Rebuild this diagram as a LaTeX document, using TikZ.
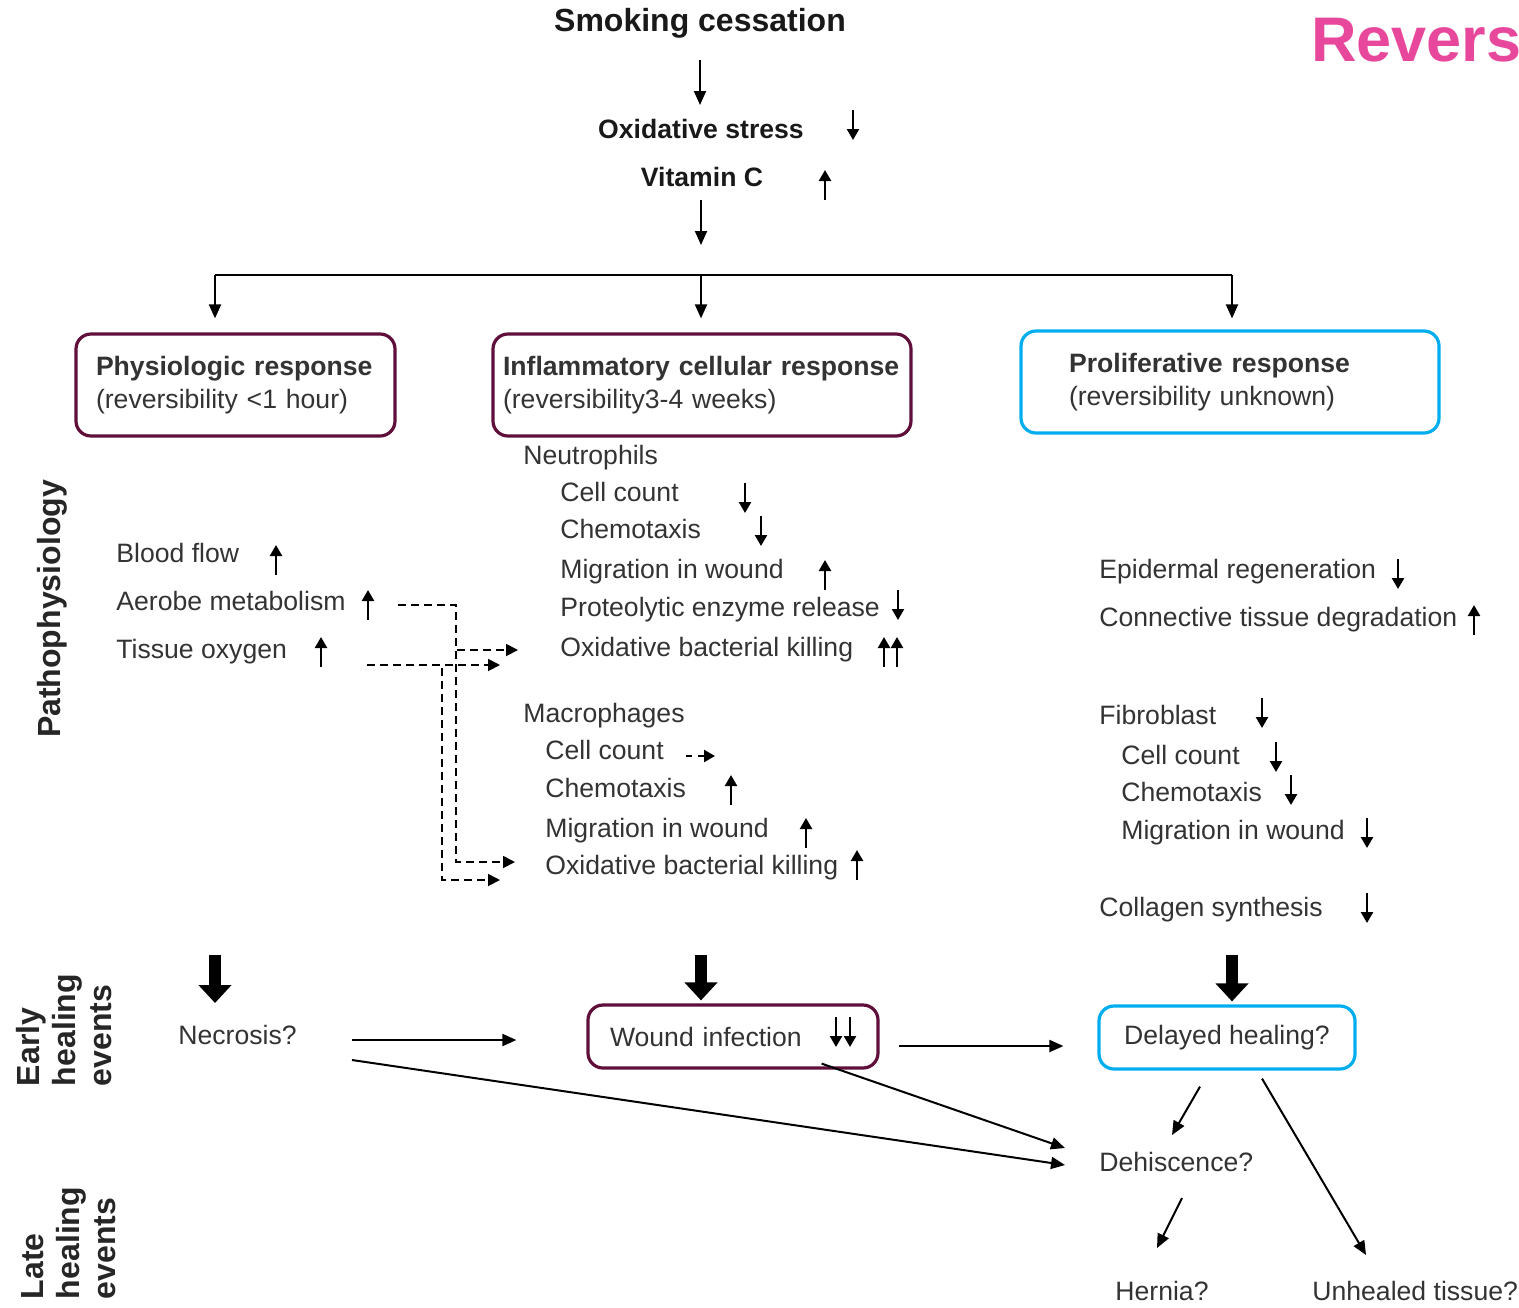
\documentclass[tikz,border=0pt]{standalone}
\usepackage{fontspec}
\setmainfont{Liberation Sans}
\usetikzlibrary{arrows.meta, positioning, calc}
\usepackage{xcolor}
\definecolor{meuvinho}{RGB}{96, 14, 58}
\definecolor{meuciano}{RGB}{0, 174, 239}
\definecolor{meurosa}{RGB}{232, 72, 155}

\begin{document}
\begin{tikzpicture}[
    x=0.5pt, y=-0.5pt,
    every node/.style={font=\fontsize{13.3}{16.5}\selectfont, text=black!80},
    item/.style={anchor=west, inner xsep=0pt, inner ysep=2pt, text height=10pt, text depth=3pt},
    topo/.style={font=\fontsize{13.3}{16}\selectfont\bfseries, text=black!90, inner sep=2pt, text height=10pt, text depth=3pt},
    caixa/.style={draw, line width=1.6pt, rounded corners=7.5pt, align=left},
    lado/.style={rotate=90, align=left, font=\fontsize{16}{18}\selectfont\bfseries, text=black!85},
    seta/.style={line width=1pt, -{Triangle[length=7pt, width=6pt]}},
    ind/.style={line width=1.2pt, -{Triangle[length=5.5pt, width=6pt]}},
    grossa/.style={line width=6pt, -{Triangle[length=9pt, width=16pt]}},
    tracejada/.style={line width=0.9pt, dash pattern=on 4pt off 2.5pt, -{Triangle[length=6pt, width=6pt]}}
]
\useasboundingbox (0,0) rectangle (1519,1307);

% ------------------------------------------------
% Topo
% ------------------------------------------------

\node[topo, font=\fontsize{16}{19}\selectfont\bfseries] (fumo) at (700,24) {Smoking cessation};
\node[topo] (oxi) at (701,131) {Oxidative stress};
\node[topo] (vitc) at (702,179) {Vitamin C};
\node[anchor=west, inner sep=0pt, font=\fontsize{31.5}{36}\selectfont\bfseries, text=meurosa] (rev) at (1311,40) {Revers};

\coordinate (ramo) at (701,275);
\coordinate (ramoE) at (215,275);
\coordinate (ramoD) at (1232,275);

% ------------------------------------------------
% Caixas de resposta
% ------------------------------------------------

\node[caixa, draw=meuvinho, text width=139.5pt, inner xsep=10pt, minimum height=51pt] (fisio) at (235.5,385)
{\textbf{Physiologic response}\\(reversibility <1 hour)};

\node[caixa, draw=meuvinho, text width=199pt, inner xsep=5pt, minimum height=51pt] (inflam) at (702,385)
{\textbf{Inflammatory cellular response}\\(reversibility3-4 weeks)};

\node[caixa, draw=meuciano, text width=161pt, inner xsep=24pt, minimum height=51pt] (prolif) at (1230,382)
{\textbf{Proliferative response}\\(reversibility unknown)};

\draw[seta] ($(fumo)+(0,36)$) -- ($(oxi)+(-1,-26)$);
\draw[seta] ($(vitc)+(-1,21)$) -- ($(ramo)+(0,-30)$);
\draw[line width=1pt] (ramoE) -- (ramoD);
\draw[seta] (ramoE) -- ($(ramoE |- fisio.north)+(0,-14)$);
\draw[seta] (ramo) -- ($(ramo |- inflam.north)+(0,-14)$);
\draw[seta] (ramoD) -- ($(ramoD |- prolif.north)+(0,-11)$);

% ------------------------------------------------
% Fisiopatologia
% ------------------------------------------------

\node[lado] (pato) at (52,609) {Pathophysiology};

\node[item] (fluxo) at (116,555) {Blood flow};
\node[item] (aerobe) at (116,603) {Aerobe metabolism};
\node[item] (tissue) at (116,651) {Tissue oxygen};

\node[item] (neutro) at (523,457) {Neutrophils};
\node[item] (ncount) at (560,494) {Cell count};
\node[item] (nchemo) at (560,531) {Chemotaxis};
\node[item] (nmigra) at (560,571) {Migration in wound};
\node[item] (nprote) at (560,609) {Proteolytic enzyme release};
\node[item] (nkill) at (560,649) {Oxidative bacterial killing};

\node[item] (macro) at (523,715) {Macrophages};
\node[item] (mcount) at (545,752) {Cell count};
\node[item] (mchemo) at (545,790) {Chemotaxis};
\node[item] (mmigra) at (545,830) {Migration in wound};
\node[item] (mkill) at (545,867) {Oxidative bacterial killing};

\node[item] (epid) at (1099,571) {Epidermal regeneration};
\node[item] (conect) at (1099,619) {Connective tissue degradation};
\node[item] (fibro) at (1099,717) {Fibroblast};
\node[item] (fcount) at (1121,757) {Cell count};
\node[item] (fchemo) at (1121,794) {Chemotaxis};
\node[item] (fmigra) at (1121,832) {Migration in wound};
\node[item] (colag) at (1099,909) {Collagen synthesis};

% setas de aumento e de queda
\foreach \x/\y in {825/185, 276/560, 368/605, 321/652, 825/575, 884/652, 897/652,
                   731/790, 806/833, 857/865, 1474/620}
    \draw[ind] (\x,\y+15) -- (\x,\y-15);
\foreach \x/\y in {853/125, 745/498, 761/531, 898/605, 1398/574, 1262/713, 1276/757,
                   1291/790, 1367/833, 1367/908, 836/1032, 850/1032}
    \draw[ind] (\x,\y-15) -- (\x,\y+15);
\draw[ind, dash pattern=on 3pt off 3pt] (686,756) -- (715,756);

\draw[tracejada] ($(aerobe.west)+(282,2)$) -- ++(58,0) |- ($(nkill.west)+(-42,1)$);
\draw[tracejada] ($(aerobe.west)+(282,2)$) -- ++(58,0) |- ($(mkill.west)+(-30,-5)$);
\draw[tracejada] ($(tissue.west)+(251,14)$) -- ($(nkill.west)+(-60,16)$);
\draw[tracejada] ($(tissue.west)+(251,14)$) -- ++(75,0) |- ($(mkill.west)+(-45,13)$);

% ------------------------------------------------
% Eventos de cicatrizacao
% ------------------------------------------------

\node[lado] (cedo) at (64,1030) {Early\\healing\\events};
\node[lado] (tarde) at (69,1243) {Late\\healing\\events};

\node[item] (necro) at (178,1037) {Necrosis?};
\node[caixa, draw=meuvinho, text width=123pt, inner xsep=11pt, minimum height=31.5pt] (ferida) at (733,1036.5) {Wound infection};
\node[caixa, draw=meuciano, align=center, minimum width=128pt, minimum height=31.5pt] (atraso) at (1227,1037.5) {Delayed healing?};
\node[item] (dehisc) at (1099,1164) {Dehiscence?};
\node[item] (hernia) at (1115,1293) {Hernia?};
\node[item] (unheal) at (1312,1293) {Unhealed tissue?};

\coordinate (g1) at (215,955);
\coordinate (g2) at (701,955);
\coordinate (g3) at (1232,955);
\draw[grossa] (g1) -- ($(g1 |- necro.west)+(0,-34)$);
\draw[grossa] (g2) -- ($(g2 |- ferida.north)+(0,-3)$);
\draw[grossa] (g3) -- ($(g3 |- atraso.north)+(0,-3)$);

\draw[seta] ($(necro.west)+(174,3)$) -- ($(ferida.west)+(-70,3.5)$);
\draw[seta] ($(ferida.east)+(19,9.5)$) -- ($(atraso.west)+(-34,8.5)$);
\draw[seta] ($(necro.west)+(174,23)$) -- ($(dehisc.west)+(-34,1)$);
\draw[seta] ($(ferida.south east)+(-58,-6)$) -- ($(dehisc.west)+(-34,-16)$);
\draw[seta] ($(atraso.south)+(-27,16)$) -- ($(dehisc.west)+(73,-29)$);
\draw[seta] ($(dehisc.west)+(83,34)$) -- ($(hernia.west)+(42,-45)$);
\draw[seta] ($(atraso.south)+(35,8)$) -- ($(unheal.west)+(54,-38)$);

\end{tikzpicture}
\end{document}
